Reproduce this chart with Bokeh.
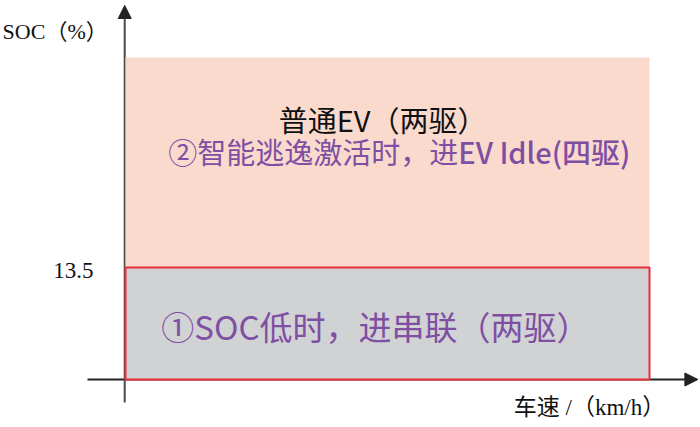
from bokeh.plotting import figure
from bokeh.models import Range1d, Arrow, NormalHead
from bokeh.core.properties import value
from bokeh.embed import file_html
from bokeh.resources import INLINE

# ---- data ----
speed_range = [0, 100]            # vehicle speed extent (arbitrary units)
soc_levels = [0, 13.5, 38.8]      # region boundaries on SOC
region_fill = ["#d1d2d4", "#f9dacd"]
ytick_values = [13.5]
ytick_labels = ["13.5"]
upper_label_1 = "普通EV（两驱）"
upper_label_2a = "②智能逃逸激活时，进"
upper_label_2b = "EV Idle(四驱)"
lower_label = "①SOC低时，进串联（两驱）"
y_title = "SOC（%）"
x_title = "车速 /（km/h）"

W, H = 700, 427
# pixel scales chosen so the frame matches the reference layout
px_x = 5.24
px_y = 8.296
x0_px, y0_px = 125, 48
x_rng = Range1d(-x0_px / px_x, (W - x0_px) / px_x)
y_rng = Range1d(-y0_px / px_y, (H - y0_px) / px_y)

p = figure(width=W, height=H, x_range=x_rng, y_range=y_rng,
           output_backend="svg", toolbar_location=None,
           x_axis_location=None, y_axis_location=None,
           min_border=0, outline_line_color=None,
           background_fill_color="white", border_fill_color="white")
p.grid.visible = False

serif = value("'Liberation Serif', 'Noto Sans CJK SC'")
cjk = value("'Noto Sans CJK SC'")
cjk_med = value("'Noto Sans CJK SC Medium', 'Noto Sans CJK SC'")

# axes with arrows (drawn under the regions)
ax_col = "#222222"
xa = Arrow(x_start=-7.25, y_start=soc_levels[0], x_end=x_rng.end - 0.5, y_end=soc_levels[0],
           line_color=ax_col, line_width=2, level="underlay",
           end=NormalHead(size=13, fill_color=ax_col, line_color=ax_col))
ya = Arrow(x_start=speed_range[0] - 0.15, y_start=-2.77, x_end=speed_range[0] - 0.15, y_end=y_rng.end - 0.6,
           line_color="#4a4a4a", line_width=2, level="underlay",
           end=NormalHead(size=13, fill_color=ax_col, line_color=ax_col))
p.add_layout(xa)
p.add_layout(ya)

# regions
p.quad(left=[speed_range[0]], right=[speed_range[1]], bottom=[soc_levels[1]], top=[soc_levels[2]],
       fill_color=region_fill[1], line_color=None)
p.quad(left=[speed_range[0]], right=[speed_range[1]], bottom=[soc_levels[0]], top=[soc_levels[1]],
       fill_color=region_fill[0], line_color="#ec2d3a", line_width=2)

# region labels
purple = "#7e4fa3"
p.text(x=[49.05], y=[31.46], text=[upper_label_1], text_font=cjk, text_font_size="29px",
       text_color="#111111", text_align="center", text_baseline="middle")
p.text(x=[63.5], y=[27.6], text=[upper_label_2a], text_font=cjk, text_font_size="29px",
       text_color=purple, text_align="right", text_baseline="middle")
p.text(x=[63.5], y=[27.6], text=[upper_label_2b], text_font=cjk_med, text_font_size="29px",
       text_color=purple, text_align="left", text_baseline="middle")
p.text(x=[47.7], y=[6.5], text=[lower_label], text_font=cjk, text_font_size="33px",
       text_color=purple, text_align="center", text_baseline="middle")

# tick label and axis titles
p.text(x=[-6.1] * len(ytick_values), y=[v - 0.35 for v in ytick_values], text=ytick_labels, text_font=serif,
       text_font_size="23px", text_color="#111111", text_align="right", text_baseline="middle")
p.text(x=[x_rng.start + 0.4], y=[42.0], text=[y_title], text_font=serif, text_font_size="22px",
       text_color="#111111", text_align="left", text_baseline="middle")
p.text(x=[103.0], y=[-3.4], text=[x_title], text_font=serif, text_font_size="23px",
       text_color="#111111", text_align="right", text_baseline="middle")

open("out.html", "w").write(file_html(p, INLINE))
